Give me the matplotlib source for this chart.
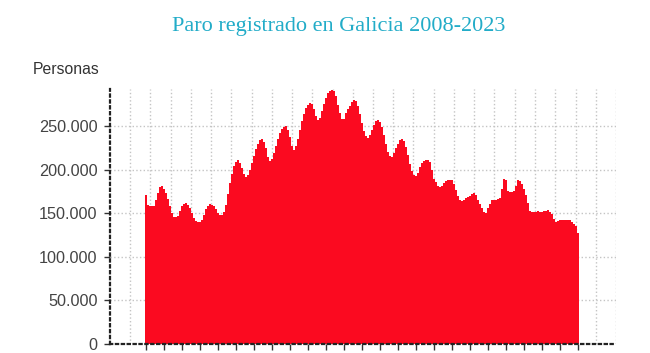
import matplotlib.pyplot as plt
import numpy as np
from matplotlib.ticker import FuncFormatter

plt.rcParams["font.family"] = ["Liberation Sans", "DejaVu Sans"]

# monthly registered unemployment, thousands of people
paro = [
    171, 160, 158, 158, 158, 165, 174, 180, 181, 178, 174, 167,
    158, 150, 146, 146, 147, 153, 158, 161, 162, 160, 156, 150,
    145, 141, 140, 140, 142, 148, 155, 159, 161, 160, 158, 155,
    151, 148, 148, 152, 160, 172, 185, 195, 204, 209, 211, 208,
    202, 195, 192, 194, 200, 208, 216, 224, 230, 234, 235, 232,
    225, 215, 210, 213, 220, 228, 236, 243, 247, 249, 250, 246,
    238, 228, 223, 227, 236, 246, 256, 264, 271, 275, 277, 276,
    270, 262, 257, 260, 268, 276, 283, 288, 291, 292, 291, 285,
    275, 265, 259, 258, 265, 270, 273, 278, 280, 279, 274, 264,
    254, 245, 239, 237, 240, 246, 252, 256, 257, 255, 249, 240,
    230, 221, 216, 215, 219, 225, 230, 234, 235, 233, 226, 217,
    207, 199, 194, 193, 197, 203, 208, 210, 211, 211, 209, 200,
    190, 186, 182, 180, 182, 185, 187, 188, 189, 188, 184, 177,
    170, 166, 164, 166, 168, 169, 170, 172, 173, 171, 166, 161,
    156, 152, 151, 156, 161, 165, 166, 166, 167, 168, 178, 190,
    189, 176, 175, 175, 176, 182, 188, 187, 184, 178, 171, 162,
    153, 152, 152, 152, 153, 152, 152, 153, 153, 154, 152, 149,
    144, 140, 141, 142, 143, 143, 143, 143, 142, 140, 138, 136,
    128,
]
paro = np.array(paro) * 1000
meses = np.arange(len(paro))

y_ticks = [0, 50000, 100000, 150000, 200000, 250000]

fig = plt.figure(figsize=(6.5, 3.53), dpi=100)
ax = fig.add_axes([110 / 650, 9 / 353, 506 / 650, 255 / 353])

ax.bar(meses, paro, width=1.0, color="#fb0a20", linewidth=0, zorder=2)

ax.set_xlim(-18, 235)
ax.set_ylim(0, 293000)

ax.set_yticks(y_ticks)
ax.yaxis.set_major_formatter(FuncFormatter(lambda v, p: f"{int(v):,}".replace(",", ".")))
ax.set_xticks(meses[::9])
ax.set_xticklabels([])
ax.set_xticks(-8 + 10.125 * np.arange(25), minor=True)

ax.set_axisbelow(True)
ax.grid(axis="y", which="major", color="#c4c4c4", linestyle=":", linewidth=1)
ax.grid(axis="x", which="minor", color="#c4c4c4", linestyle=":", linewidth=1)
ax.tick_params(axis="x", which="minor", length=0)
ax.tick_params(axis="both", which="major", direction="out", length=4, width=1,
               color="#333333", labelsize=11.7, labelcolor="#444444", pad=5)

for s in ["top", "right"]:
    ax.spines[s].set_visible(False)
for s in ["left", "bottom"]:
    ax.spines[s].set_linestyle(":")
    ax.spines[s].set_linewidth(1.6)
    ax.spines[s].set_color("#222222")

fig.text(339 / 650, 1 - 27 / 353, "Paro registrado en Galicia 2008-2023",
         family="Liberation Serif", fontsize=16, color="#22acc8",
         ha="center", va="center")
fig.text(33 / 650, 1 - 69 / 353, "Personas", fontsize=11.3, color="#333333",
         ha="left", va="center")

fig.savefig("out.png", dpi=100)
